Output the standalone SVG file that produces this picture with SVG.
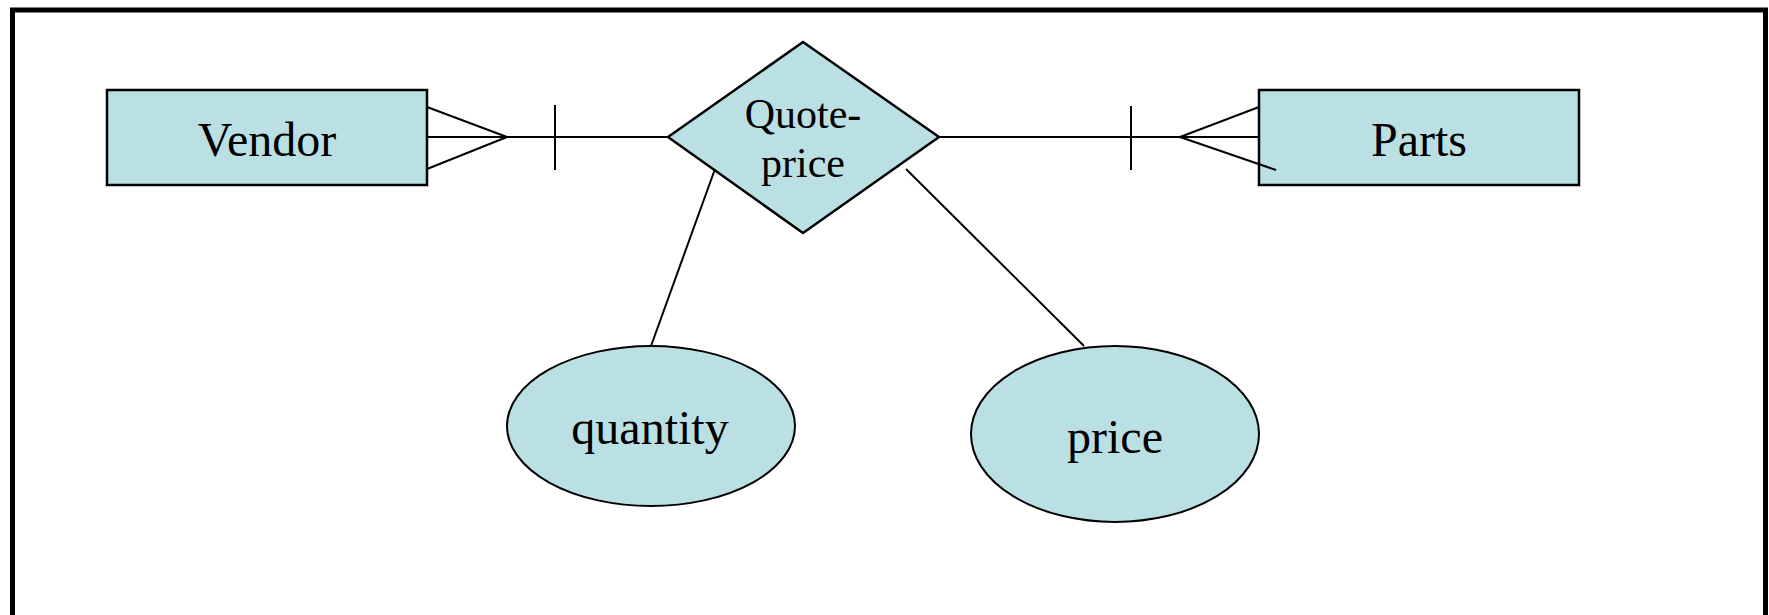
<svg xmlns="http://www.w3.org/2000/svg" width="1769" height="615" viewBox="0 0 1769 615">
<style>
.shape{fill:#BBE0E3;stroke:#000;stroke-width:2.5}
.ell{fill:#BBE0E3;stroke:#000;stroke-width:2}
.lbl{font-family:"Liberation Serif","Times New Roman",serif;fill:#000;text-anchor:middle}
.conn line{stroke:#000;stroke-width:2;fill:none}
</style>
<rect x="0" y="0" width="1769" height="615" fill="#fff"/>
<rect x="12.5" y="10" width="1753" height="640" fill="none" stroke="#000" stroke-width="5"/>
<g id="vendor">
<rect class="shape" x="107" y="90" width="320" height="95"/>
<text class="lbl" x="267" y="156" font-size="48">Vendor</text>
</g>
<g id="parts">
<rect class="shape" x="1259" y="90" width="320" height="95"/>
<text class="lbl" x="1419" y="156" font-size="48">Parts</text>
</g>
<g id="quote-price">
<polygon class="shape" points="668,137 803,42 939,137 803,233" stroke-width="2"/>
<text class="lbl" x="803" y="128" font-size="42">Quote-</text>
<text class="lbl" x="803" y="177" font-size="42">price</text>
</g>
<g id="quantity">
<ellipse class="ell" cx="651" cy="426" rx="144" ry="80"/>
<text class="lbl" x="650" y="444" font-size="48">quantity</text>
</g>
<g id="price">
<ellipse class="ell" cx="1115" cy="434" rx="144" ry="88"/>
<text class="lbl" x="1115" y="453" font-size="48">price</text>
</g>
<g id="connectors" class="conn">
<line x1="427" y1="107" x2="507" y2="137"/>
<line x1="427" y1="137" x2="507" y2="137"/>
<line x1="427" y1="169" x2="507" y2="137"/>
<line x1="507" y1="137" x2="668" y2="137"/>
<line x1="555" y1="105" x2="555" y2="170"/>
<line x1="939" y1="137" x2="1180" y2="137"/>
<line x1="1131" y1="106" x2="1131" y2="170"/>
<line x1="1180" y1="137" x2="1259" y2="107"/>
<line x1="1180" y1="137" x2="1259" y2="137"/>
<line x1="1180" y1="137" x2="1276" y2="170"/>
<line x1="715" y1="169" x2="651" y2="346"/>
<line x1="906" y1="169" x2="1084" y2="346"/>
</g>
</svg>
